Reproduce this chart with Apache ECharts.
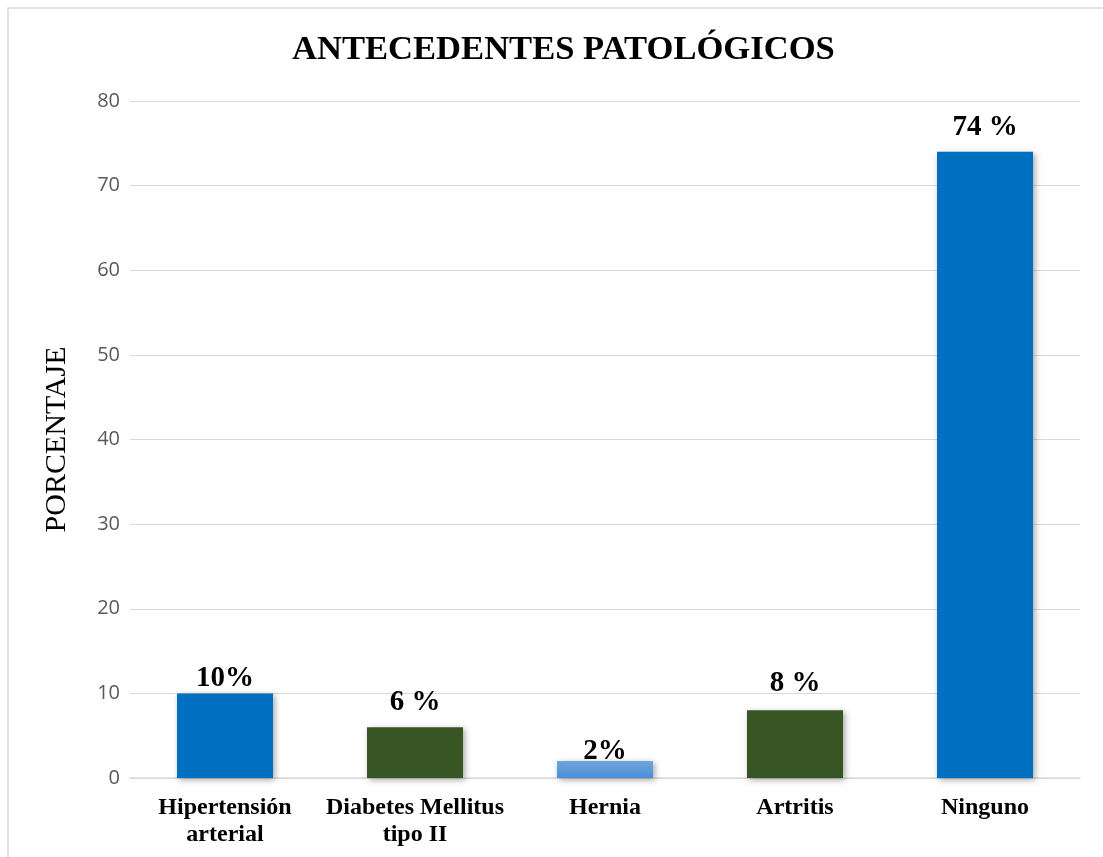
<!DOCTYPE html>
<html><head><meta charset="utf-8">
<script src="https://cdn.jsdelivr.net/npm/echarts@6/dist/echarts.min.js"></script>
<style>html,body{margin:0;padding:0;background:#fff}#c{width:1103px;height:857px}</style>
</head><body><div id="c"></div>
<script>
const categories = ['Hipertensión\narterial', 'Diabetes Mellitus\ntipo II', 'Hernia', 'Artritis', 'Ninguno'];
const values = [10, 6, 2, 8, 74];
const valueLabels = ['10%', '6 %', '2%', '8 %', '74 %'];
const yTicks = [0, 10, 20, 30, 40, 50, 60, 70, 80];

const blue = '#0070C0', green = '#375623';
const barColors = [
  blue, green,
  {type:'linear',x:0,y:0,x2:0,y2:1,colorStops:[{offset:0,color:'#6FA6DC'},{offset:1,color:'#4A8FD6'}]},
  green, blue
];
const labelDist = [0, 10, -5, 12, 10];

const chart = echarts.init(document.getElementById('c'));
chart.setOption({
  animation:false,
  title:{text:'ANTECEDENTES PATOLÓGICOS',left:287,top:28,
    textStyle:{fontFamily:'Liberation Serif',fontWeight:'bold',fontSize:34.6,color:'#000'}},
  graphic:[{type:'rect',shape:{x:8,y:8,width:1120,height:880},style:{fill:'none',stroke:'#d9d9d9',lineWidth:1.5},silent:true}],
  grid:{left:130,right:23,top:101,bottom:79},
  xAxis:{type:'category',data:categories,
    axisLine:{lineStyle:{color:'#d9d9d9',width:1.5}},axisTick:{show:false},
    axisLabel:{fontFamily:'Liberation Serif',fontWeight:'bold',fontSize:24,color:'#000',lineHeight:27,margin:16,interval:0}},
  yAxis:{type:'value',min:yTicks[0],max:yTicks[yTicks.length-1],interval:10,
    name:'PORCENTAJE',nameLocation:'middle',nameGap:58,
    nameTextStyle:{fontFamily:'Liberation Serif',fontSize:30,color:'#000'},
    axisLine:{show:false},axisTick:{show:false},
    splitLine:{lineStyle:{color:'#d9d9d9',width:1.2}},
    axisLabel:{fontFamily:'Open Sans',fontSize:20,color:'#595959',margin:10}},
  series:[{type:'bar',barWidth:96,
    data:values.map((v,i)=>({value:v,
      itemStyle:{color:barColors[i],shadowColor:'rgba(0,0,0,0.35)',shadowBlur:6,shadowOffsetX:2,shadowOffsetY:2},
      label:{show:true,position:'top',distance:labelDist[i],formatter:valueLabels[i]}})),
    label:{fontFamily:'Liberation Serif',fontWeight:'bold',fontSize:29,color:'#000'}
  }]
});
</script></body></html>
